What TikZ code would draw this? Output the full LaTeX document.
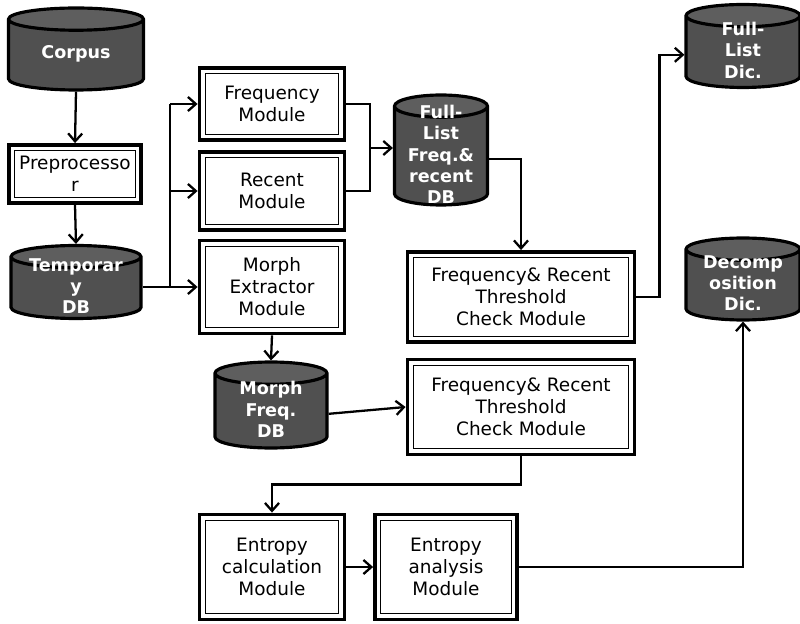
\documentclass[tikz,border=0pt]{standalone}
\usepackage{fontspec}
\setmainfont{DejaVu Sans}
\usetikzlibrary{shapes.geometric,arrows.meta}
\definecolor{dbgray}{HTML}{505050}
\definecolor{dbtop}{HTML}{5E5E5E}

\begin{document}
\begin{tikzpicture}[x=0.02cm,y=-0.02cm]
		\tikzstyle{every node}+=[inner sep=0pt]
		\tikzstyle{module}=[draw, line width=2.2pt, align=center, font=\fontsize{10.5}{12.5}\selectfont,
			path picture={\draw[line width=0.7pt] ([shift={(3.2pt,3.2pt)}]path picture bounding box.south west) rectangle ([shift={(-3.2pt,-3.2pt)}]path picture bounding box.north east);}]
		\tikzstyle{db}=[cylinder, shape border rotate=90, inner sep=3.33pt, aspect=1.9, draw, line width=1.8pt, anchor=shape center,
			cylinder uses custom fill, cylinder body fill=dbgray, cylinder end fill=dbtop]
		\tikzstyle{dbtext}=[text=white, font=\bfseries\fontsize{10}{12}\selectfont, align=center, yshift=-2.5pt]
		\tikzstyle{wire}=[line width=1.3pt]
		\tikzstyle{arr}=[wire, -{Straight Barb[length=4.5pt,width=8pt]}]
		\useasboundingbox (0,0) rectangle (800,624);
		% left column
		\node [db, minimum width=2.7cm, minimum height=1.64cm] (corpus) at (76,49) {};
		\node [dbtext] (corpuslbl) at (corpus.shape center) {Corpus};
		\node [module, minimum width=2.64cm, minimum height=1.16cm] (prep) at (75,174) {Preprocesso\\r};
		\node [db, minimum width=2.6cm, minimum height=1.46cm] (temp) at (76,282) {};
		\node [dbtext] (templbl) at (temp.shape center) {Temporar\\y\\DB};
		% modules fed by the temporary db
		\node [module, minimum width=2.9cm, minimum height=1.44cm] (freq) at (272,104) {Frequency\\Module};
		\node [module, minimum width=2.9cm, minimum height=1.56cm] (recent) at (272,191) {Recent\\Module};
		\node [module, minimum width=2.9cm, minimum height=1.86cm] (morph) at (272,287) {Morph\\Extractor\\Module};
		\node [db, minimum width=1.86cm, minimum height=2.2cm] (fulldb) at (441,150) {};
		\node [dbtext] (fulldblbl) at (fulldb.shape center) {Full-\\List\\Freq.\&\\recent\\DB};
		\node [db, minimum width=2.24cm, minimum height=1.72cm] (morphdb) at (271,405) {};
		\node [dbtext] (morphdblbl) at (morphdb.shape center) {Morph\\Freq.\\DB};
		% threshold checks
		\node [module, minimum width=4.54cm, minimum height=1.8cm] (chk1) at (521,297) {Frequency\& Recent\\Threshold\\Check Module};
		\node [module, minimum width=4.54cm, minimum height=1.9cm] (chk2) at (521,407) {Frequency\& Recent\\Threshold\\Check Module};
		% dictionaries
		\node [db, minimum width=2.28cm, minimum height=1.66cm] (fulldic) at (743,46) {};
		\node [dbtext] (fulldiclbl) at (fulldic.shape center) {Full-\\List\\Dic.};
		\node [db, minimum width=2.28cm, minimum height=1.64cm] (decomp) at (743,279) {};
		\node [dbtext] (decomplbl) at (decomp.shape center) {Decomp\\osition\\Dic.};
		% entropy
		\node [module, minimum width=2.9cm, minimum height=2.1cm] (ecalc) at (272,567) {Entropy\\calculation\\Module};
		\node [module, minimum width=2.84cm, minimum height=2.1cm] (eana) at (446,567) {Entropy\\analysis\\Module};
		\coordinate (trunk) at (170,0);
		\coordinate (join) at (370,148);

		\draw [arr] (corpus.south) -- (prep.north);
		\draw [arr] (prep.south) -- (temp.north);
		\draw [arr] (temp.east |- morph.west) -- (morph.west);
		\draw [wire] (trunk |- morph.west) -- (trunk |- freq.west);
		\draw [arr] (trunk |- freq.west) -- (freq.west);
		\draw [arr] (trunk |- recent.west) -- (recent.west);
		\draw [wire] (freq.east) -| (join |- recent.east) -- (recent.east);
		\draw [arr] (join) -- (join -| fulldb.west);
		\draw [arr] (fulldb.east) -| (chk1.north);
		\draw [arr] (chk1.east) -- ++(23,0) |- (fulldic.west);
		\draw [arr] (morph.south) -- (morphdb.north);
		\draw [arr] (morphdb.east) -- (chk2.west);
		\draw [arr] (chk2.south) -- ++(0,28) -| (ecalc.north);
		\draw [arr] (ecalc.east) -- (eana.west);
		\draw [arr] (eana.east) -| (decomp.south);
	\end{tikzpicture}
\end{document}
